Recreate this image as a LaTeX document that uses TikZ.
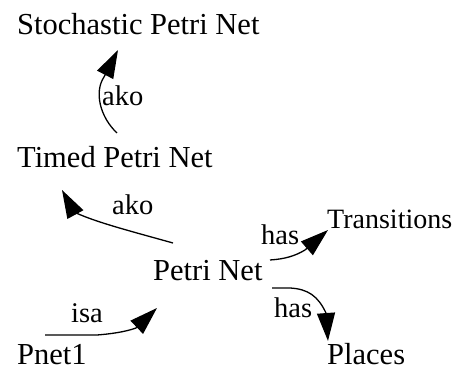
\documentclass[tikz,border=0pt]{standalone}
\usepackage{fontspec}
\setmainfont{Liberation Serif}
\usetikzlibrary{arrows.meta}
\begin{document}
\begin{tikzpicture}[x=1pt,y=-1pt,
  concept/.style={anchor=base west,inner sep=0pt,font=\fontsize{30.5}{33}\selectfont},
  rel/.style={anchor=base west,inner sep=0pt,font=\fontsize{28.5}{30}\selectfont},
  link/.style={line width=1.3pt,-{Triangle[length=28pt,width=18pt]}}]
  \useasboundingbox (0,0) rectangle (458,371);
  % concepts
  \node[concept] (stoch) at (17,35)  {Stochastic Petri Net};
  \node[concept] (timed) at (17,168) {Timed Petri Net};
  \node[concept] (petri) at (153,281) {Petri Net};
  \node[concept,font=\fontsize{28}{30}\selectfont] (trans) at (327,229) {Transitions};
  \node[concept,text depth=0pt] (places) at (327,364) {Places};
  \node[concept,text depth=0pt] (pnet) at (17,364) {Pnet1};
  % connector end points
  \coordinate (timed-out) at (117,133);
  \coordinate (stoch-in)  at (118,50);
  \coordinate (petri-ako) at (173,243);
  \coordinate (timed-in)  at (62,190);
  \coordinate (pnet-out)  at (45,335);
  \coordinate (petri-in)  at (157,308);
  \coordinate (petri-has1) at (270,260);
  \coordinate (trans-in)  at (328,230);
  \coordinate (petri-has2) at (272,288);
  \coordinate (places-in) at (328,341);
  % relations
  \draw[link] (timed-out) .. controls (100,117) and (94,92) .. (104,77) -- (stoch-in);
  \draw[link] (petri-ako) .. controls (130,231) and (95,222) .. (74,212) -- (timed-in);
  \draw[link] (pnet-out) -- (97,335) .. controls (110,334) and (125,332) .. (136,328) -- (petri-in);
  \draw[link] (petri-has1) .. controls (285,259) and (295,256) .. (305,250) -- (trans-in);
  \draw[link] (petri-has2) -- (290,288) .. controls (308,289) and (318,296) .. (326,313) -- (places-in);
  % relation labels
  \node[rel] (l1) at (102,106) {ako};
  \node[rel] (l2) at (112,215) {ako};
  \node[rel] (l3) at (71,323) {isa};
  \node[rel] (l4) at (261,245) {has};
  \node[rel] (l5) at (274,318) {has};
\end{tikzpicture}
\end{document}
